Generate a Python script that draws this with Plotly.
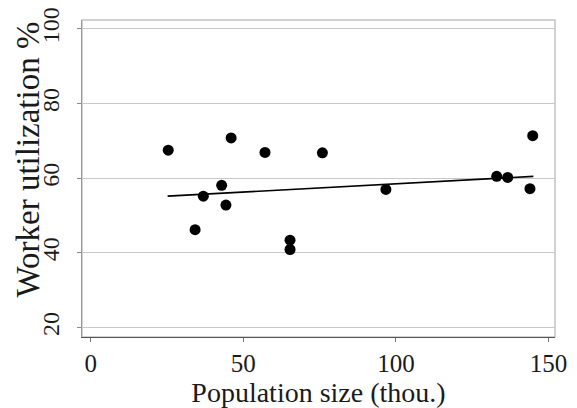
import plotly.graph_objects as go

# data
population = [25.4, 34.2, 36.9, 42.9, 44.3, 46.0, 57.1, 65.3, 65.3, 75.9,
              96.7, 133.0, 136.6, 143.9, 144.8]
utilization = [67.5, 46.2, 55.2, 58.1, 52.8, 70.8, 66.9, 43.4, 40.9, 66.8,
               57.0, 60.5, 60.2, 57.2, 71.4]

# fitted line (end points)
fit_x = [25.2, 145.0]
fit_y = [55.2, 60.5]

x_ticks = [0, 50, 100, 150]
y_ticks = [20, 40, 60, 80, 100]

serif = "Liberation Serif"
ink = "#1a1a1a"

fig = go.Figure()

fig.add_trace(go.Scatter(x=population, y=utilization, mode="markers",
                         marker=dict(color="black", size=11),
                         showlegend=False))
fig.add_trace(go.Scatter(x=fit_x, y=fit_y, mode="lines",
                         line=dict(color="black", width=1.6),
                         showlegend=False))

# light frame round the plot area
fig.add_shape(type="rect", xref="paper", yref="paper", x0=0, y0=0, x1=1, y1=1,
              line=dict(color="#c4c4c4", width=1.5), layer="below")

# y title as annotation so it can sit a bit higher than centre
fig.add_annotation(text="Worker utilization %", xref="paper", yref="paper",
                   x=0, y=0.56, xshift=-54, textangle=-90, showarrow=False,
                   xanchor="center", yanchor="middle",
                   font=dict(family=serif, size=33, color=ink))

fig.update_xaxes(range=[-2.85, 152.1], tickvals=x_ticks, showgrid=False,
                 zeroline=False, showline=True, linecolor="#555555", linewidth=1.3,
                 ticks="outside", ticklen=4, tickcolor="#777777",
                 tickfont=dict(family=serif, size=25, color=ink),
                 ticklabeloverflow="allow",
                 title=dict(text="Population size (thou.)",
                            font=dict(family=serif, size=28, color=ink),
                            standoff=0),
                 automargin=False)
fig.update_yaxes(range=[17.45, 102.4], tickvals=y_ticks, tickangle=-90,
                 showgrid=True, gridcolor="#c8c8c8", gridwidth=1,
                 zeroline=False, showline=True, linecolor="#999999", linewidth=1,
                 ticks="outside", ticklen=4, tickcolor="#888888",
                 ticklabelstandoff=8, ticklabeloverflow="allow",
                 tickfont=dict(family=serif, size=24, color=ink),
                 automargin=False)

# page body adds 8px offset, so the figure is 8px smaller and shifted
fig.update_layout(
    width=569, height=400,
    margin=dict(l=74, r=22, t=12, b=71, autoexpand=False),
    plot_bgcolor="white", paper_bgcolor="white",
)

fig.write_html("out.html")
